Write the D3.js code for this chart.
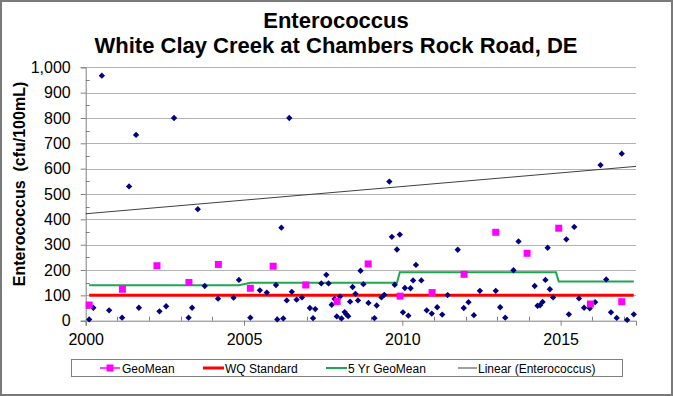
<!DOCTYPE html>
<html>
<head>
<meta charset="utf-8">
<script src="https://cdn.jsdelivr.net/npm/d3@7"></script>
<style>
  html, body { margin: 0; padding: 0; background: #fff; }
  svg { display: block; font-family: "Liberation Sans", Arial, sans-serif; }
</style>
</head>
<body>
<svg id="chart" width="673" height="396"></svg>
<script>
// ---- Data ----
const sampleYears = [
  2000.11, 2000.24, 2000.51, 2000.74, 2001.15, 2001.37, 2001.59, 2001.68, 2002.33, 2002.54,
  2002.79, 2003.25, 2003.36, 2003.54, 2003.76, 2004.18, 2004.67, 2004.84, 2005.20, 2005.50,
  2005.72, 2006.01, 2006.05, 2006.18, 2006.24, 2006.35, 2006.43, 2006.51, 2006.66, 2006.83,
  2007.08, 2007.18, 2007.25, 2007.44, 2007.60, 2007.67, 2007.77, 2007.86, 2007.93, 2008.03,
  2008.08, 2008.18, 2008.23, 2008.29, 2008.35, 2008.43, 2008.52, 2008.60, 2008.68, 2008.77,
  2008.93, 2009.12, 2009.19, 2009.34, 2009.43, 2009.59, 2009.67, 2009.76, 2009.83, 2009.92,
  2010.02, 2010.08, 2010.19, 2010.26, 2010.34, 2010.43, 2010.60, 2010.77, 2010.93, 2011.10,
  2011.26, 2011.43, 2011.75, 2011.94, 2012.09, 2012.26, 2012.45, 2012.95, 2013.09, 2013.25,
  2013.51, 2013.67, 2014.18, 2014.27, 2014.35, 2014.43, 2014.52, 2014.59, 2014.66, 2014.76,
  2015.18, 2015.26, 2015.43, 2015.58, 2015.74, 2015.92, 2016.09, 2016.26, 2016.44, 2016.59,
  2016.77, 2016.93, 2017.10, 2017.31
];
const enteroValues = [
  5, 51, 967, 41, 12, 530, 733, 51, 37, 57,
  800, 12, 51, 440, 137, 87, 91, 161, 12, 120,
  111, 141, 5, 367, 9, 80, 800, 114, 83, 92,
  50, 10, 46, 147, 181, 147, 63, 86, 17, 95,
  9, 34, 25, 18, 75, 133, 106, 80, 197, 144,
  70, 10, 60, 92, 102, 549, 331, 142, 281, 340,
  33, 129, 20, 128, 159, 220, 159, 41, 28, 53,
  24, 101, 280, 50, 73, 22, 118, 118, 53, 12,
  199, 313, 137, 59, 61, 74, 161, 288, 124, 92,
  321, 25, 370, 88, 51, 49, 73, 614, 163, 33,
  11, 659, 3, 25
];
const geoYears  = [2000.11, 2001.16, 2002.25, 2003.26, 2004.19, 2005.20, 2005.92, 2006.95, 2007.94,
                   2008.92, 2009.93, 2010.94, 2011.95, 2012.95, 2013.94, 2014.94, 2015.94, 2016.93];
const geoValues = [62, 124, 217, 151, 222, 128, 215, 141, 76,
                   224, 97, 111, 183, 349, 266, 365, 66, 75];
const fiveYrYears  = [2000.11, 2004.84, 2005.20, 2009.83, 2009.92, 2014.85, 2014.94, 2017.31];
const fiveYrValues = [140, 140, 150, 150, 191, 191, 155, 155];
const wqYears  = [2000.11, 2017.31];
const wqValues = [100, 100];
const trendYears  = [2000.0, 2017.38];
const trendValues = [422, 609];
const xTickYears  = [2000, 2005, 2010, 2015];
const yTickValues = [0, 100, 200, 300, 400, 500, 600, 700, 800, 900, 1000];
const titleLines = ["Enterococcus", "White Clay Creek at Chambers Rock Road, DE"];
const yAxisTitle = "Enterococcus  (cfu/100mL)";
const legendNames = ["GeoMean", "WQ Standard", "5 Yr GeoMean", "Linear (Enterococcus)"];

// ---- Layout ----
const W = 673, H = 396;
const plot = { left: 85.7, right: 636, top: 67.3, bottom: 320.7 };
const svg = d3.select("#chart");

svg.append("rect").attr("x", 0).attr("y", 0).attr("width", W).attr("height", H).attr("fill", "#fff");

const x = d3.scaleLinear().domain([2000, 2017.38]).range([plot.left, plot.right]);
const y = d3.scaleLinear().domain([0, 1000]).range([plot.bottom, plot.top]);

// gridlines
svg.append("g").selectAll("line").data(yTickValues.filter(v => v > 0)).join("line")
  .attr("x1", plot.left).attr("x2", plot.right)
  .attr("y1", d => Math.round(y(d)) + 0.5).attr("y2", d => Math.round(y(d)) + 0.5)
  .attr("stroke", "#b4b4b4").attr("stroke-width", 1);

// minor ticks (inside)
const yMinor = d3.range(50, 1000, 100);
svg.append("g").selectAll("line").data(yMinor).join("line")
  .attr("x1", plot.left).attr("x2", plot.left + 4)
  .attr("y1", d => Math.round(y(d)) + 0.5).attr("y2", d => Math.round(y(d)) + 0.5)
  .attr("stroke", "#808080");
const xMinor = d3.range(2001, 2018).filter(v => v % 5 !== 0);
svg.append("g").selectAll("line").data(xMinor).join("line")
  .attr("x1", d => Math.round(x(d)) + 0.5).attr("x2", d => Math.round(x(d)) + 0.5)
  .attr("y1", plot.bottom - 4).attr("y2", plot.bottom)
  .attr("stroke", "#808080");

// Y axis
const yAxis = d3.axisLeft(y).tickValues(yTickValues).tickSize(5).tickPadding(10)
  .tickFormat(d3.format(","));
const gy = svg.append("g").attr("transform", `translate(${plot.left},0)`).call(yAxis);
gy.select(".domain").attr("stroke", "#808080");
gy.selectAll(".tick line").attr("stroke", "#808080");
gy.selectAll(".tick text").attr("font-size", 16).attr("fill", "#000")
  .attr("font-family", "Liberation Sans, Arial, sans-serif");

// X axis
const xAxis = d3.axisBottom(x).tickValues(xTickYears).tickSize(5).tickPadding(8)
  .tickFormat(d3.format("d"));
const gx = svg.append("g").attr("transform", `translate(0,${plot.bottom})`).call(xAxis);
gx.select(".domain").attr("stroke", "#808080");
gx.selectAll(".tick line").attr("stroke", "#808080");
gx.selectAll(".tick text").attr("font-size", 16).attr("fill", "#000")
  .attr("font-family", "Liberation Sans, Arial, sans-serif");

// WQ standard (red)
const line = d3.line().x(d => x(d[0])).y(d => y(d[1]));
svg.append("path").datum(d3.zip(wqYears, wqValues)).attr("d", line)
  .attr("fill", "none").attr("stroke", "#ff0000").attr("stroke-width", 3);

// 5 Yr GeoMean (green)
svg.append("path").datum(d3.zip(fiveYrYears, fiveYrValues)).attr("d", line)
  .attr("fill", "none").attr("stroke", "#1fa650").attr("stroke-width", 2);

// Linear trend
svg.append("path").datum(d3.zip(trendYears, trendValues)).attr("d", line)
  .attr("fill", "none").attr("stroke", "#404040").attr("stroke-width", 1);

// Enterococcus diamonds
const diamond = d3.symbol().type(d3.symbolSquare).size(20);
svg.append("g").selectAll("path").data(d3.zip(sampleYears, enteroValues)).join("path")
  .attr("d", diamond)
  .attr("transform", d => `translate(${x(d[0])},${y(d[1])}) rotate(45)`)
  .attr("fill", "#000080");

// GeoMean squares
const square = d3.symbol().type(d3.symbolSquare).size(49);
svg.append("g").selectAll("path").data(d3.zip(geoYears, geoValues)).join("path")
  .attr("d", square)
  .attr("transform", d => `translate(${x(d[0])},${y(d[1])})`)
  .attr("fill", "#ff00ff");

// Titles
svg.append("text").attr("x", 336).attr("y", 28.3).attr("text-anchor", "middle")
  .attr("font-size", 22).attr("font-weight", "bold").text(titleLines[0]);
svg.append("text").attr("x", 336).attr("y", 53.3).attr("text-anchor", "middle")
  .attr("font-size", 22).attr("font-weight", "bold").text(titleLines[1]);

// Y axis title
svg.append("text").attr("transform", "translate(25,184) rotate(-90)")
  .attr("text-anchor", "middle").attr("font-size", 16).attr("font-weight", "bold")
  .attr("xml:space", "preserve").style("white-space", "pre").text(yAxisTitle);

// Legend
const lg = svg.append("g");
lg.append("rect").attr("x", 71.5).attr("y", 359.5).attr("width", 551).attr("height", 17)
  .attr("fill", "#fff").attr("stroke", "#808080");
const ly = 368;
const legendItems = [
  { x1: 100, x2: 120, tx: 122, color: "#ff00ff", w: 1.5, marker: true },
  { x1: 203, x2: 224, tx: 225, color: "#ff0000", w: 3 },
  { x1: 326, x2: 347, tx: 348, color: "#1fa650", w: 2 },
  { x1: 458, x2: 477, tx: 478, color: "#404040", w: 1 }
];
legendItems.forEach((it, i) => {
  lg.append("line").attr("x1", it.x1).attr("x2", it.x2).attr("y1", ly).attr("y2", ly)
    .attr("stroke", it.color).attr("stroke-width", it.w);
  if (it.marker) {
    lg.append("path").attr("d", square)
      .attr("transform", `translate(${(it.x1 + it.x2) / 2},${ly})`).attr("fill", "#ff00ff");
  }
  lg.append("text").attr("x", it.tx).attr("y", 372.5).attr("font-size", 12)
    .attr("fill", "#000").text(legendNames[i]);
});

// Outer frame
svg.append("rect").attr("x", 1).attr("y", 1).attr("width", W - 2).attr("height", H - 2)
  .attr("fill", "none").attr("stroke", "#7a7a7a").attr("stroke-width", 2);
</script>
</body>
</html>
